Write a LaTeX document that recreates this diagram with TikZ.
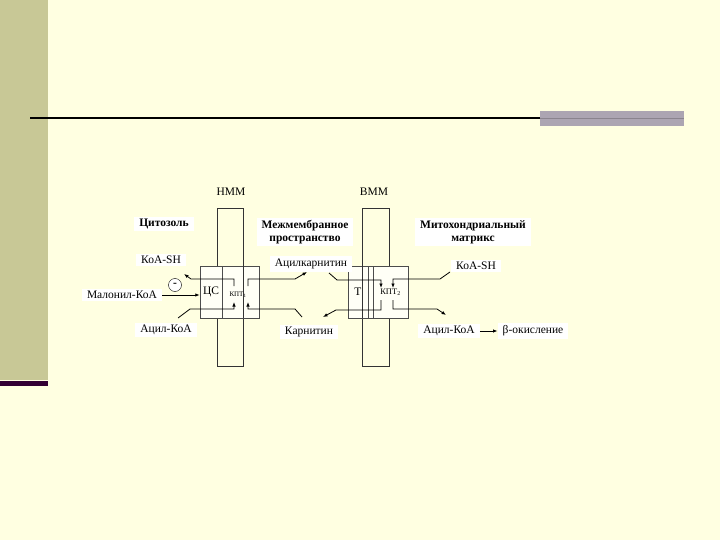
\documentclass[tikz,border=0pt]{standalone}
\usepackage{fontspec}
\setmainfont{Liberation Serif}
\usetikzlibrary{arrows.meta,positioning}
\definecolor{bgy}{RGB}{255,255,225}
\definecolor{band}{RGB}{200,200,150}
\definecolor{stripe}{RGB}{51,0,51}
\definecolor{bar}{RGB}{172,165,178}
\begin{document}
\begin{tikzpicture}[x=1pt,y=-1pt,>={Latex[length=4.5pt,width=3.5pt]},
  every node/.style={font=\fontsize{11.5}{13}\selectfont},
  lbl/.style={fill=white,inner xsep=5pt,inner ysep=2.5pt},
  hd/.style={lbl,font=\bfseries\fontsize{11.5}{13}\selectfont,align=center},
  mem/.style={draw=black!80,line width=0.5pt},
  prot/.style={draw=black!70,fill=white!70!bgy,line width=0.5pt,minimum height=52pt,inner sep=0pt},
  arr/.style={->,line width=0.8pt}]
\useasboundingbox (0,0) rectangle (720,540);
\fill[bgy] (0,0) rectangle (720,540);
\fill[band] (0,0) rectangle (48,380);
\fill[stripe] (0,381) rectangle (48,386);
\fill[bar] (540,111) rectangle (684,126);
\draw[line width=2.2pt] (30,118) -- (540,118);
\draw[bar!80!black,line width=0.6pt] (540,118) -- (684,118);

\draw[mem] (217,208) rectangle (243,366);
\draw[mem] (362,208) rectangle (389,366);
\node (hmm) at (231,192) {НММ};
\node (bmm) at (374,192) {ВММ};

\node[prot,minimum width=22pt] (cs) at (211,292) {ЦС};
\node[prot,minimum width=37pt] (kpt1) at (240.5,292) {};
\draw[mem] (243,266) -- (243,318);
\node[font=\fontsize{7}{8}\selectfont] (kpt1l) at (238,295) {КПТ\textsubscript{1}};
\node[prot,minimum width=20pt] (tr) at (358,292) {Т};
\node[prot,minimum width=5pt] (gap) at (370.5,292) {};
\node[prot,minimum width=35pt,font=\fontsize{8.5}{10}\selectfont] (kpt2) at (390.5,292) {КПТ\textsubscript{2}};
\draw[mem] (362.5,266) -- (362.5,318);

\node[hd] (cyto) at (164,224) {Цитозоль};
\node[hd] (ims) at (305,232) {Межмембранное\\пространство};
\node[hd] (mx) at (473,232) {Митохондриальный\\матрикс};
\node[lbl] (koa1) at (161,260) {КоА-SH};
\node[lbl] (mal) at (122,295) {Малонил-КоА};
\node[draw,circle,fill=white,inner sep=0pt,minimum size=13pt] (inh) at (175,285) {\textbf{-}};
\node[lbl] (acyl1) at (166,330) {Ацил-КоА};
\node[lbl] (acar) at (311,264) {Ацилкарнитин};
\node[lbl] (car) at (309,332) {Карнитин};
\node[lbl] (koa2) at (476,266) {КоА-SH};
\node[lbl] (acyl2) at (449,331) {Ацил-КоА};
\node[lbl] (boxid) at (533,331) {β-окисление};

\coordinate (a1) at (184,274);
\coordinate (b1) at (307,272);
\coordinate (c1) at (178,318);
\coordinate (d1) at (302,317);
\coordinate (e1) at (329,273);
\coordinate (f1) at (450,272);
\coordinate (g1) at (323,317);
\coordinate (h1) at (446,315);

\draw[arr] (mal.east) -- (mal.east -| cs.west);
\draw[arr] (234,286) |- (191,279) -- (a1);
\draw[arr] (248,286) |- (295,279) -- (b1);
\draw[arr] (c1) -- (190,309) -| (234,302);
\draw[arr] (d1) -- (295,309) -| (248,302);
\draw[arr] (e1) -- (337,280) -| (381,288);
\draw[arr] (f1) -- (440,279) -| (393,288);
\draw[arr] (381,300) |- (336,310) -- (g1);
\draw[arr] (393,300) |- (437,309) -- (h1);
\draw[arr] (acyl2.east) -- (boxid.west);
\end{tikzpicture}
\end{document}
